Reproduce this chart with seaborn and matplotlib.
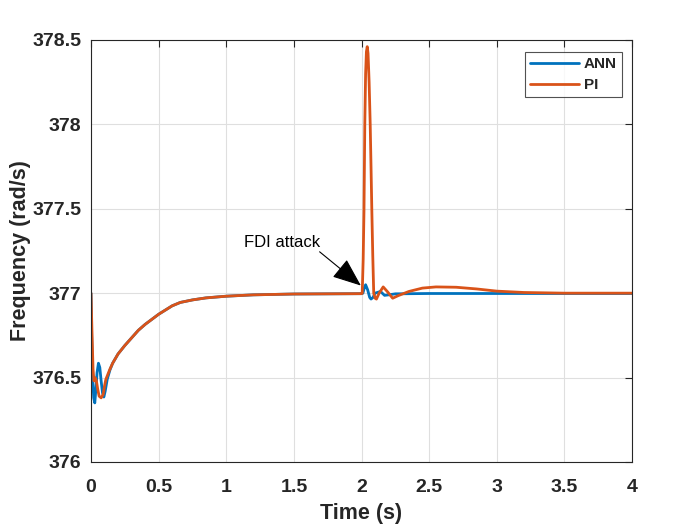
import matplotlib
matplotlib.use("Agg")
import matplotlib.pyplot as plt
import seaborn as sns
import pandas as pd
import numpy as np

# ---- data ----
recovery_t = [0.16, 0.2, 0.25, 0.3, 0.35, 0.4, 0.45, 0.5, 0.55, 0.6, 0.66, 0.75, 0.85, 1.0, 1.2, 1.5, 2.0]
recovery_v = [376.585, 376.64, 376.69, 376.735, 376.78, 376.815, 376.845, 376.875, 376.9, 376.925,
              376.945, 376.96, 376.972, 376.982, 376.99, 376.995, 376.997]

ann_start_t = [0.0, 0.005, 0.012, 0.02, 0.028, 0.035, 0.045, 0.055, 0.065, 0.075, 0.085, 0.095, 0.105, 0.12, 0.14]
ann_start_v = [377.0, 376.75, 376.5, 376.38, 376.35, 376.42, 376.53, 376.585, 376.56, 376.48, 376.41, 376.385,
               376.42, 376.49, 376.545]
ann_attack_t = [2.01, 2.02, 2.03, 2.045, 2.06, 2.07, 2.085, 2.1, 2.14, 2.17, 2.2, 2.25, 2.5, 3.0, 3.5, 4.0]
ann_attack_v = [377.0, 377.03, 377.05, 377.02, 376.975, 376.965, 376.975, 377.0, 377.01, 376.987, 376.99,
                376.996, 376.998, 376.998, 376.998, 376.998]

pi_start_t = [0.0, 0.008, 0.015, 0.022, 0.03, 0.04, 0.05, 0.06, 0.075, 0.09, 0.1, 0.11, 0.125, 0.14]
pi_start_v = [377.0, 376.75, 376.55, 376.48, 376.5, 376.48, 376.43, 376.39, 376.38, 376.4, 376.45, 376.49,
              376.52, 376.55]
pi_attack_t = [2.005, 2.012, 2.018, 2.024, 2.03, 2.036, 2.042, 2.048, 2.056, 2.064, 2.07, 2.076, 2.083,
               2.09, 2.1, 2.11, 2.13, 2.16, 2.19, 2.23, 2.27, 2.35, 2.45, 2.55, 2.7, 2.85, 3.0, 3.2, 3.5, 4.0]
pi_attack_v = [377.0, 377.2, 377.49, 378.0, 378.3, 378.43, 378.46, 378.42, 378.25, 378.0, 377.75, 377.49,
               377.22, 377.0, 376.97, 376.965, 377.0, 377.037, 377.01, 376.97, 376.985, 377.01, 377.03,
               377.037, 377.035, 377.025, 377.012, 377.004, 377.0, 377.0]

series_names = ["ANN", "PI"]
colors = ["#0072BD", "#D95319"]

x_ticks = [0, 0.5, 1, 1.5, 2, 2.5, 3, 3.5, 4]
x_tick_labels = ["0", "0.5", "1", "1.5", "2", "2.5", "3", "3.5", "4"]
y_ticks = [376, 376.5, 377, 377.5, 378, 378.5]
y_tick_labels = ["376", "376.5", "377", "377.5", "378", "378.5"]

annotation_text = "FDI attack"
annotation_text_pos = (1.41, 377.30)
arrow_tail = (1.69, 377.245)
arrow_tip = (1.995, 377.045)

ann_t = ann_start_t + recovery_t + ann_attack_t
ann_v = ann_start_v + recovery_v + ann_attack_v
pi_t = pi_start_t + recovery_t + pi_attack_t
pi_v = pi_start_v + recovery_v + pi_attack_v

df = pd.concat([
    pd.DataFrame({"t": ann_t, "v": ann_v, "series": series_names[0]}),
    pd.DataFrame({"t": pi_t, "v": pi_v, "series": series_names[1]}),
], ignore_index=True)

sns.set_theme(style="white")
plt.rcParams['font.family'] = ['Liberation Sans', 'DejaVu Sans']

fig = plt.figure(figsize=(7, 5.25), dpi=100)
ax = fig.add_axes([0.13, 0.12, 0.773, 0.804])

sns.lineplot(data=df, x="t", y="v", hue="series", palette=colors, sort=False,
             estimator=None, linewidth=2.0, ax=ax)

ax.set_xlim(0, 4)
ax.set_ylim(376, 378.5)
ax.set_xticks(x_ticks)
ax.set_xticklabels(x_tick_labels)
ax.set_yticks(y_ticks)
ax.set_yticklabels(y_tick_labels)
ax.grid(True, color="#dfdfdf", linewidth=0.8)
ax.set_axisbelow(True)
for s in ax.spines.values():
    s.set_color("#262626")
    s.set_linewidth(0.8)
    s.set_visible(True)
ax.tick_params(direction="in", length=5, width=0.8, colors="#262626", top=True, right=True,
               labelsize=14)
ax.tick_params(axis="x", pad=12)
ax.tick_params(axis="y", pad=7)
for lab in ax.get_xticklabels() + ax.get_yticklabels():
    lab.set_fontweight("bold")

ax.set_xlabel("Time (s)", fontsize=15.5, fontweight="bold", color="#262626", labelpad=5)
ax.set_ylabel("Frequency (rad/s)", fontsize=15.5, fontweight="bold", color="#262626", labelpad=1)

ax.text(annotation_text_pos[0], annotation_text_pos[1], annotation_text, fontsize=12,
        ha="center", va="center", color="#000000")
ax.annotate("", xy=arrow_tip, xytext=arrow_tail,
            arrowprops=dict(arrowstyle="-|>,head_length=1.5,head_width=0.6", color="black",
                            lw=0.8, shrinkA=0, shrinkB=0, mutation_scale=12))

leg = ax.legend(loc="upper right", bbox_to_anchor=(0.9815, 0.9716), borderaxespad=0,
                frameon=True, fancybox=False, fontsize=11, handlelength=3.2, borderpad=0.35,
                labelspacing=0.45, handletextpad=0.3)
leg.get_frame().set_edgecolor("#262626")
leg.get_frame().set_linewidth(0.8)
for t in leg.get_texts():
    t.set_fontweight("bold")

fig.savefig("out.png", dpi=100)
